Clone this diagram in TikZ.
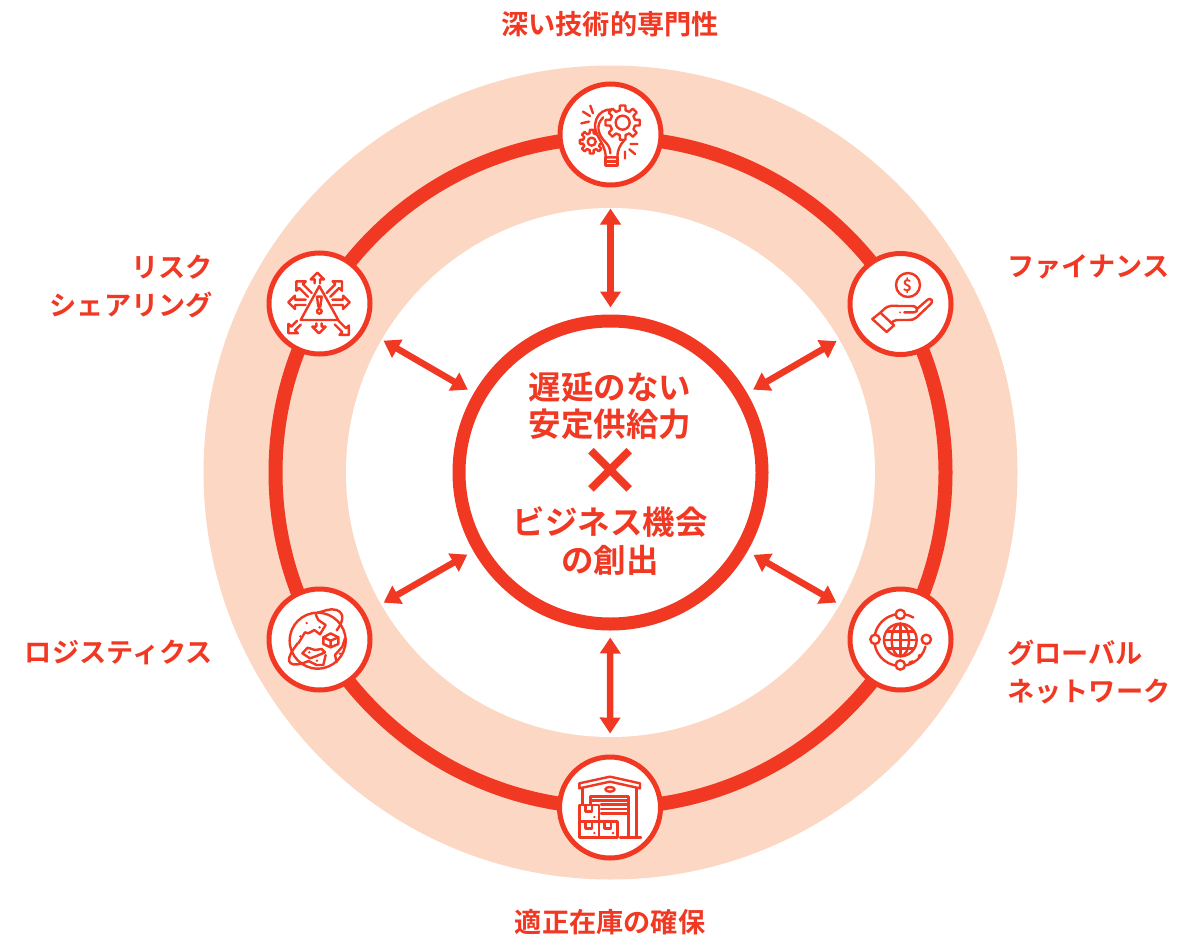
\documentclass[tikz,border=0pt]{standalone}
\usepackage{fontspec}
\setmainfont{Noto Sans CJK JP}[BoldFont={Noto Sans CJK JP Bold}]
\newfontfamily\heavyjp{Noto Sans CJK JP Black}
\usetikzlibrary{arrows.meta,calc}
\definecolor{rd}{HTML}{F03823}
\definecolor{pch}{HTML}{FCD7C3}
\tikzset{
  ringnode/.style={circle,draw=rd,line width=5pt,fill=white,minimum size=101pt,inner sep=0pt},
  hubnode/.style={circle,draw=rd,line width=13pt,fill=white,minimum size=303pt,inner sep=0pt},
  lab/.style={text=rd,font=\bfseries\fontsize{27.2}{38}\selectfont,align=left,inner sep=0pt},
  labr/.style={lab,align=right},
  hubtext/.style={text=rd,font=\bfseries\fontsize{32.5}{37.5}\selectfont,align=center,inner sep=0pt},
  dbl/.style={draw=rd,line width=6.5pt,{Triangle[length=16pt,width=20pt]}-{Triangle[length=16pt,width=20pt]},shorten <=7pt,shorten >=21pt},
  ic/.style={draw=rd,line width=2.4pt,line join=round,line cap=round},
  icz/.style={x=0.3333pt,y=-0.3333pt}
}
\newcommand{\gearic}[5]{% cx cy ro ri n
  \fill[white] (#1,#2) circle[radius=#3];
  \foreach \i in {1,...,#5}{
    \pgfmathsetmacro{\aa}{360/#5*\i}
    \pgfmathsetmacro{\wa}{360/#5*0.30}
    \pgfmathsetmacro{\wb}{360/#5*0.20}
    \pgfmathsetmacro{\wc}{360/#5*0.70}
    \draw[ic] ($(#1,#2)+(\aa-\wa:#4 and -#4)$) -- ($(#1,#2)+(\aa-\wb:#3 and -#3)$) -- ($(#1,#2)+(\aa+\wb:#3 and -#3)$) -- ($(#1,#2)+(\aa+\wa:#4 and -#4)$) -- ($(#1,#2)+(\aa+\wc:#4 and -#4)$);
  }
}
\newcommand{\outarw}[4]{% x y angle length (from base, pointing along angle; y down)
  \begin{scope}[shift={(#1,#2)},rotate=-#3]
    \draw[ic,x=0.3333pt,y=0.3333pt] (0,-8) -- (#4-20,-8) -- (#4-20,-20) -- (#4,0) -- (#4-20,20) -- (#4-20,8) -- (0,8);
  \end{scope}
}
\begin{document}
\begin{tikzpicture}[x=1pt,y=-1pt]
\useasboundingbox (0,0) rectangle (1204,939);
\fill[pch] (610.5,472.5) circle[radius=407];
\fill[white] (610.5,472.5) circle[radius=264.5];
\draw[rd,line width=14pt] (610.5,472.5) circle[radius=335];

\coordinate (ctr) at (610.5,472.5);
\node[ringnode] (n1) at (610.5,134.5) {};
\node[ringnode] (n2) at (900.5,304) {};
\node[ringnode] (n3) at (900.5,639.5) {};
\node[ringnode] (n4) at (610,807.5) {};
\node[ringnode] (n5) at (319.5,639.5) {};
\node[ringnode] (n6) at (319.5,303.5) {};
\node[hubnode] (hub) at (ctr) {};

\foreach \t in {n1,n2,n3,n4,n5,n6}{
  \draw[dbl] (hub) -- (\t);
}

\node[lab,anchor=center] (l1) at (610,24.5) {深い技術的専門性};
\node[lab,anchor=west] (l2) at (1007,266.5) {ファイナンス};
\node[lab,anchor=north west] (l3) at (1007,640) {グローバル\\ネットワーク};
\node[lab,anchor=center] (l4) at (610,922.5) {適正在庫の確保};
\node[labr,anchor=east] (l5) at (213,652.5) {ロジスティクス};
\node[labr,anchor=north east] (l6) at (213,255) {リスク\\シェアリング};

\node[hubtext] (h1) at (610,406) {遅延のない\\安定供給力};
\node[hubtext] (h2) at (610,541) {ビジネス機会\\の創出};
\node[text=rd,font=\heavyjp\fontsize{66}{66}\selectfont,inner sep=0pt] (hx) at (610,472) {×};

% icon 1: bulb and gears
\begin{scope}[shift={(540,70)},icz]
  \gearic{155}{215}{36}{26}{8}
  \draw[ic] (155,215) circle[radius=12];
  \draw[ic,fill=white] (232,122) .. controls (185,105) and (150,150) .. (172,195) .. controls (185,220) and (197,235) .. (197,262) -- (232,262) .. controls (232,240) and (240,225) .. (252,212);
  \draw[ic] (190,142) .. controls (165,165) and (175,195) .. (195,215) .. controls (205,225) and (211,235) .. (211,250);
  \draw[ic] (197,262) -- (197,287) -- (232,287) -- (232,262) (197,274) -- (232,274);
  \gearic{248}{158}{52}{38}{8}
  \draw[ic] (248,158) circle[radius=21];
  \draw[ic] (151,107) -- (159,130) (129,125) -- (150,138) (124,160) -- (147,155);
  \draw[ic] (272,222) -- (292,222) (268,238) -- (285,252) (255,245) -- (255,265);
\end{scope}

% icon 2: hand with coin
\begin{scope}[shift={(835,240)},icz]
  \draw[ic] (219,135) circle[radius=36];
  \node[text=rd,font=\bfseries\fontsize{16}{16}\selectfont,inner sep=0pt] (dollar) at (217,137) {\$};
  \draw[ic] (112,237) -- (136,218) -- (177,256) -- (155,276) -- cycle;
  \draw[ic] (136,218) -- (150,205) .. controls (160,197) and (175,196) .. (190,198) -- (230,198) .. controls (240,198) and (245,203) .. (246,207) -- (278,179) .. controls (288,172) and (297,184) .. (287,192) -- (245,232) .. controls (238,239) and (230,240) .. (220,240) -- (185,240) .. controls (178,240) and (172,246) .. (168,250);
  \draw[ic] (208,217) -- (235,217) .. controls (245,217) and (248,210) .. (246,207);
  \fill[rd] (195,217) circle[radius=3];
\end{scope}

% icon 3: globe network
\begin{scope}[shift={(835,575)},icz]
  \draw[ic] (196,195) ++(-15:78 and -78) arc[start angle=15,end angle=300,radius=78];
  \draw[ic] (251,243) -- (255,240) (223,263) -- (233,259);
  \draw[ic] (196,195) circle[radius=49];
  \draw[ic] (196,195) ellipse[x radius=26,y radius=49];
  \draw[ic] (196,146) -- (196,244) (147,195) -- (245,195) (155,170) -- (237,170) (155,220) -- (237,220);
  \foreach \p/\q in {196/118,120/193,274/193,196/270}{
    \draw[ic,fill=white] (\p,\q) circle[radius=14];
  }
\end{scope}

% icon 4: warehouse
\begin{scope}[shift={(545,745)},icz]
  \draw[ic] (103,115) -- (195,95) -- (285,115) -- (285,130) -- (195,110) -- (103,130) -- cycle;
  \draw[ic] (195,133) ellipse[x radius=14,y radius=7];
  \draw[ic] (113,130) -- (113,178) (275,130) -- (275,278) (225,278) -- (288,278);
  \draw[ic] (137,178) -- (137,154) -- (250,154) -- (250,278);
  \draw[ic] (137,166) -- (250,166) (168,179) -- (250,179) (168,192) -- (250,192) (168,205) -- (250,205);
  \draw[ic] (103,180) rectangle (162,230) (103,230) rectangle (162,278) (162,230) rectangle (218,278);
  \draw[ic] (122,180) -- (122,200) -- (141,200) -- (141,180);
  \draw[ic] (122,230) -- (122,250) -- (141,250) -- (141,230);
  \draw[ic] (178,230) -- (178,250) -- (198,250) -- (198,230);
  \fill[rd] (148,216) circle[radius=4] (148,264) circle[radius=4] (204,264) circle[radius=4];
\end{scope}

% icon 5: earth with orbit and cube
\begin{scope}[shift={(255,575)},icz]
  \draw[ic] (188,197) circle[radius=84];
  \draw[ic] (245,166) .. controls (265,140) and (270,115) .. (245,105) .. controls (225,98) and (205,110) .. (188,113);
  \draw[ic] (128,205) .. controls (105,235) and (90,262) .. (115,268) .. controls (130,270) and (145,265) .. (160,258);
  \draw[ic] (182,118) -- (190,135) -- (212,150) -- (195,178) -- (178,165) -- (160,175) -- (150,172) -- (130,205);
  \draw[ic,fill=white] (142,235) -- (158,218) -- (180,225) -- (200,222) -- (210,232) -- (185,243) -- (165,250) -- cycle;
  \draw[ic] (160,258) -- (185,270) -- (205,270) -- (212,240);
  \draw[ic] (270,190) -- (262,215) -- (240,240) -- (245,262);
  \draw[ic,fill=white] (205,187) -- (227,175) -- (250,187) -- (250,207) -- (227,217) -- (205,207) -- cycle;
  \draw[ic] (205,187) -- (227,197) -- (250,187) (227,197) -- (227,217);
  \fill[rd] (155,144) circle[radius=4] (194,157) circle[radius=4] (136,184) circle[radius=4] (163,232) circle[radius=4] (186,257) circle[radius=4] (255,236) circle[radius=4];
\end{scope}

% icon 6: risk warning
\begin{scope}[shift={(255,240)},icz]
  \draw[ic] (193,138) -- (137,240) -- (250,240) -- cycle;
  \draw[ic] (186,170) -- (200,170) -- (196,200) -- (190,200) -- cycle;
  \draw[ic] (193,214) circle[radius=7];
  \outarw{187}{130}{270}{32}
  \outarw{152}{187}{180}{52}
  \outarw{232}{187}{0}{52}
  \outarw{192}{250}{90}{30}
  \outarw{165}{165}{225}{58}
  \outarw{220}{165}{-45}{58}
  \outarw{132}{248}{135}{45}
  \outarw{245}{248}{45}{52}
\end{scope}
\end{tikzpicture}
\end{document}
